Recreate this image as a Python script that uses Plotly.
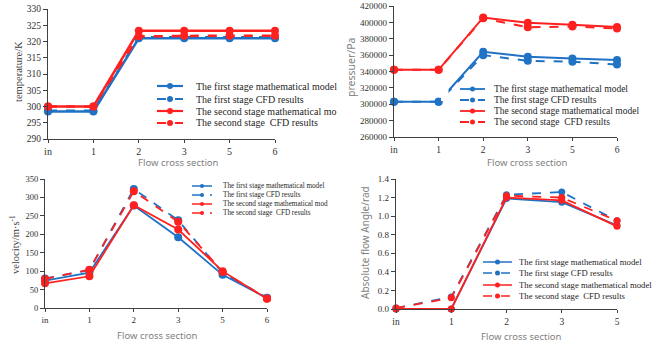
import plotly.graph_objects as go

W, H = 657, 344
BLUE = "#1f72c4"
RED = "#ff2020"
AXC = "#404040"
SERIF = "Liberation Serif, Times New Roman, serif"
SANS = "Noto Sans, DejaVu Sans, sans-serif"

cats6 = ["in", "1", "2", "3", "5", "6"]
cats5 = ["in", "1", "2", "3", "5"]

series_names = [
    "The first stage mathematical model",
    "The first stage CFD results",
    "The second stage mathematical model",
    "The second stage  CFD results",
]

# Temperature (K)
temp_first_model = [298.5, 298.5, 321.0, 321.0, 321.0, 321.0]
temp_first_cfd = [298.7, 298.7, 321.3, 321.3, 321.3, 321.3]
temp_second_model = [300.0, 300.0, 323.3, 323.3, 323.3, 323.3]
temp_second_cfd = [300.0, 300.0, 321.6, 321.8, 321.8, 321.8]

# Pressure (Pa)
pres_first_model = [303000, 303000, 364000, 358000, 356000, 354000]
pres_first_cfd = [303000, 303000, 360000, 353000, 352000, 348500]
pres_second_model = [342000, 342000, 406000, 399500, 397000, 394500]
pres_second_cfd = [342000, 342000, 405000, 394000, 395000, 392500]

# Velocity (m/s)
vel_first_model = [74, 96, 278, 192, 90, 27]
vel_first_cfd = [80, 103, 323, 238, 95, 28]
vel_second_model = [67, 86, 279, 213, 100, 25]
vel_second_cfd = [79, 104, 317, 234, 98, 26]

# Absolute flow angle (rad)
ang_first_model = [0.0, 0.0, 1.19, 1.15, 0.90]
ang_first_cfd = [0.01, 0.13, 1.23, 1.26, 0.95]
ang_second_model = [0.0, 0.0, 1.20, 1.17, 0.89]
ang_second_cfd = [0.01, 0.12, 1.22, 1.20, 0.95]


def px(x):
    return x / W


def py(y):
    return 1 - y / H


fig = go.Figure()

panels = [
    dict(cats=cats6, data=[temp_first_model, temp_first_cfd, temp_second_model, temp_second_cfd],
         xd=(48, 275), yd=(9, 139), yr=[290, 330], dt=5, fmt=None, lw=2.5, ms=8, tf=9.5),
    dict(cats=cats6, data=[pres_first_model, pres_first_cfd, pres_second_model, pres_second_cfd],
         xd=(394, 617), yd=(6, 137), yr=[260000, 420000], dt=20000, fmt="d", lw=2, ms=8, tf=9),
    dict(cats=cats6, data=[vel_first_model, vel_first_cfd, vel_second_model, vel_second_cfd],
         xd=(45, 267), yd=(179, 308), yr=[0, 350], dt=50, fmt=None, lw=1.8, ms=8, tf=8.5),
    dict(cats=cats5, data=[ang_first_model, ang_first_cfd, ang_second_model, ang_second_cfd],
         xd=(396, 617), yd=(179, 309), yr=[0, 1.4], dt=0.2, fmt=".1f", lw=1.8, ms=7, tf=9),
]

colors = [BLUE, BLUE, RED, RED]
dashes = ["solid", "dash", "solid", "dash"]

for i, p in enumerate(panels, start=1):
    xa = "x" if i == 1 else f"x{i}"
    ya = "y" if i == 1 else f"y{i}"
    for vals, c, d, nm in zip(p["data"], colors, dashes, series_names):
        fig.add_trace(go.Scatter(
            x=p["cats"], y=vals, name=nm, mode="lines+markers",
            line=dict(color=c, width=p["lw"], dash=d),
            marker=dict(color=c, size=p["ms"]),
            xaxis=xa, yaxis=ya, showlegend=False, cliponaxis=False))
    xk = "xaxis" if i == 1 else f"xaxis{i}"
    yk = "yaxis" if i == 1 else f"yaxis{i}"
    fig.layout[xk] = dict(
        domain=[px(p["xd"][0]), px(p["xd"][1])], anchor=ya, type="category",
        range=[0, len(p["cats"]) - 1], showgrid=False, zeroline=False, automargin=False,
        showline=True, linecolor=AXC, linewidth=1.3, ticks="outside", ticklen=3,
        tickcolor=AXC, tickfont=dict(family=SERIF, size=p["tf"] + 0.5, color="#303030"))
    yd = dict(
        domain=[py(p["yd"][1]), py(p["yd"][0])], anchor=xa, range=p["yr"], dtick=p["dt"],
        showgrid=False, zeroline=False, showline=True, linecolor=AXC, linewidth=1.3,
        ticks="outside", ticklen=4, tickcolor=AXC, automargin=False,
        tickfont=dict(family=SERIF, size=p["tf"], color="#303030"))
    if p["fmt"]:
        yd["tickformat"] = p["fmt"]
    fig.layout[yk] = yd

annotations = []
shapes = []

# white patch hiding part of the blue segment in the pressure panel (as in the reference)
shapes.append(dict(type="rect", xref="paper", yref="paper", x0=px(441), x1=px(448.5),
                   y0=py(101), y1=py(84), fillcolor="white", line=dict(width=0), layer="above"))


def title(text, x, y, angle=0, family=SANS, size=9.5, color="#7f7f7f"):
    annotations.append(dict(text=text, x=px(x), y=py(y), xref="paper", yref="paper",
                            showarrow=False, textangle=angle, xanchor="center", yanchor="middle",
                            font=dict(family=family, size=size, color=color)))


title("Flow cross section", 178, 162.5)
title("Flow cross section", 527, 162.5)
title("Flow cross section", 157, 335)
title("Flow cross section", 521, 336)
title("temperature/K", 18, 72, -90, SERIF, 10.5, "#404040")
title("pressuer/Pa", 351, 67, -90, SANS, 10.5)
title("velocity/m·s<sup>-1</sup>", 14, 245, -90, SERIF, 10.5, "#404040")
title("Absolute flow Angle/rad", 365, 243, -90, SANS, 10)

# manual legends
legends = [
    dict(x0=157, x1=183, tx=194, rows=[86, 99, 111, 123], fs=10, ms=6, lw=2.2,
         labels=[series_names[0], series_names[1], "The second stage mathematical mo", series_names[3]]),
    dict(x0=460, x1=485, tx=492, rows=[89, 100, 111, 122], fs=9.5, ms=5, lw=1.8,
         labels=series_names),
    dict(x0=192, x1=212, tx=221, rows=[186, 195, 204, 213], fs=7.2, ms=4, lw=1.5,
         labels=[series_names[0], series_names[1], "The second stage mathematical mod", series_names[3]]),
    dict(x0=483, x1=512, tx=517, rows=[262, 273, 285, 296], fs=8.7, ms=5, lw=1.5,
         labels=series_names),
]

for lg in legends:
    for r, lab, c, d in zip(lg["rows"], lg["labels"], colors, dashes):
        shapes.append(dict(type="line", xref="paper", yref="paper",
                           x0=px(lg["x0"]), x1=px(lg["x1"]), y0=py(r), y1=py(r),
                           line=dict(color=c, width=lg["lw"], dash=d)))
        cx = (lg["x0"] + lg["x1"]) / 2
        m = lg["ms"] / 2
        shapes.append(dict(type="circle", xref="paper", yref="paper",
                           x0=px(cx - m), x1=px(cx + m), y0=py(r + m), y1=py(r - m),
                           fillcolor=c, line=dict(color=c, width=0)))
        annotations.append(dict(text=lab, x=px(lg["tx"]), y=py(r), xref="paper", yref="paper",
                                showarrow=False, xanchor="left", yanchor="middle",
                                font=dict(family=SERIF, size=lg["fs"], color="#262626")))

fig.update_layout(
    width=W, height=H, margin=dict(l=0, r=0, t=0, b=0),
    paper_bgcolor="white", plot_bgcolor="white", showlegend=False,
    annotations=annotations, shapes=shapes,
)

fig.write_html("out.html", config={"displayModeBar": False},
               post_script="document.body.style.margin='0px';")
